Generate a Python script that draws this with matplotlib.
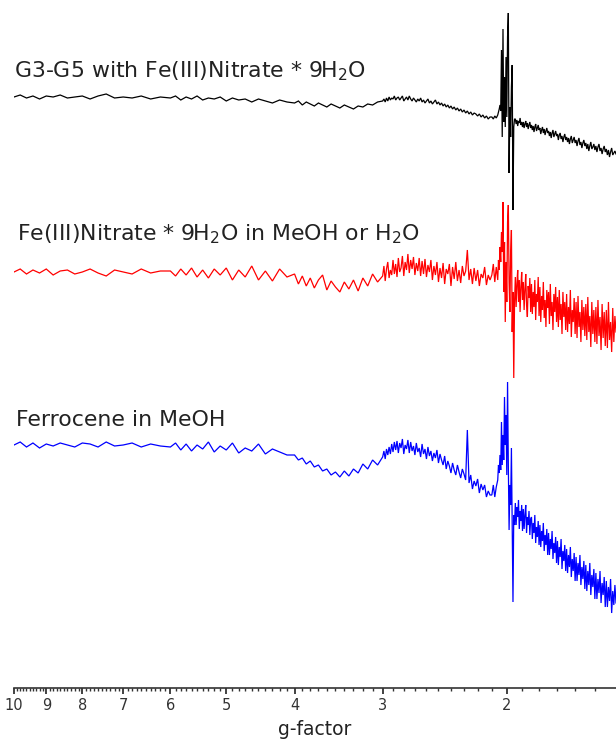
import matplotlib
matplotlib.use("Agg")
import matplotlib.pyplot as plt
from matplotlib.ticker import FixedLocator, FixedFormatter, NullFormatter
import numpy as np

# ---------------- data ----------------
g_factor = [
    10.0, 9.8, 9.6, 9.4, 9.2, 9.0, 8.8, 8.6, 8.4, 8.2, 8.0, 7.8, 7.6, 7.4, 7.2, 7.0, 6.8, 6.6, 6.4, 6.2,
    6.0, 5.9, 5.8, 5.7, 5.6, 5.5, 5.4, 5.3, 5.2, 5.1, 5.0, 4.9, 4.8, 4.7, 4.6, 4.5, 4.4, 4.3, 4.2, 4.1,
    4.0, 3.95, 3.9, 3.85, 3.8, 3.75, 3.7, 3.65, 3.6, 3.55, 3.5, 3.45, 3.4, 3.35, 3.3, 3.25, 3.2, 3.15, 3.1, 3.05,
    3.0, 2.9875, 2.975, 2.9625, 2.95, 2.9375, 2.925, 2.9125, 2.9, 2.8875,
    2.875, 2.8625, 2.85, 2.8375, 2.825, 2.8125, 2.8, 2.7875, 2.775, 2.7625,
    2.75, 2.7375, 2.725, 2.7125, 2.7, 2.6875, 2.675, 2.6625, 2.65, 2.6375,
    2.625, 2.6125, 2.6, 2.5875, 2.575, 2.5625, 2.55, 2.5375, 2.525, 2.5125,
    2.5, 2.4875, 2.475, 2.4625, 2.45, 2.4375, 2.425, 2.4125, 2.4, 2.3875,
    2.375, 2.3625, 2.35, 2.3375, 2.325, 2.3125, 2.3, 2.2875, 2.275, 2.2625,
    2.25, 2.2375, 2.225, 2.2125, 2.2, 2.1875, 2.175, 2.1625, 2.15, 2.1375,
    2.125, 2.1125,
    2.10, 2.09, 2.08, 2.07, 2.06, 2.055, 2.05, 2.045, 2.04, 2.035, 2.03, 2.025, 2.02, 2.015, 2.01, 2.005, 2.0,
    1.995, 1.99, 1.985, 1.98, 1.975, 1.97, 1.965, 1.96, 1.955, 1.95,
    1.945, 1.94, 1.935, 1.93, 1.925, 1.92, 1.915, 1.91, 1.905, 1.90,
    1.895, 1.89, 1.885, 1.88, 1.875, 1.87, 1.865, 1.86, 1.855, 1.85,
    1.845, 1.84, 1.835, 1.83, 1.825, 1.82, 1.815, 1.81, 1.805, 1.80,
    1.795, 1.79, 1.785, 1.78, 1.775, 1.77, 1.765, 1.76, 1.755, 1.75,
    1.745, 1.74, 1.735, 1.73, 1.725, 1.72, 1.715, 1.71, 1.705, 1.70,
    1.695, 1.69, 1.685, 1.68, 1.675, 1.67, 1.665, 1.66, 1.655, 1.65,
    1.645, 1.64, 1.635, 1.63, 1.625, 1.62, 1.615, 1.61, 1.605, 1.60,
    1.595, 1.59, 1.585, 1.58, 1.575, 1.57, 1.565, 1.56, 1.555, 1.55,
    1.545, 1.54, 1.535, 1.53, 1.525, 1.52, 1.515, 1.51, 1.505, 1.50,
    1.495, 1.49, 1.485, 1.48, 1.475, 1.47, 1.465, 1.46, 1.455, 1.45,
    1.445, 1.44, 1.435, 1.43, 1.425, 1.42, 1.415, 1.41, 1.405, 1.40,
]

g3g5_fe_nitrate = [
    0, 2, -1, 1, -2, 1, 0, 2, -1, 0, 1, -2, 1, 3, -1, 0, -1, 1, -2, 0,
    -1, 1, -3, 0, -2, 1, -3, -1, -2, 0, -4, -1, -3, -2, -5, -2, -4, -6, -3, -5,
    -6, -4, -8, -5, -7, -9, -6, -8, -10, -7, -9, -11, -8, -10, -12, -9, -10, -7, -8, -5,
    -4, -2, -5, -1, -4, 0, -3, -1, -2, 1,
    -3, -1, 0, -3, -1, 1, -4, -2, 0, -3,
    1, -2, -4, -1, -3, -5, -2, -4, -1, -5,
    -3, -6, -4, -2, -6, -4, -7, -5, -3, -7,
    -5, -8, -6, -9, -7, -10, -8, -11, -9, -12,
    -10, -13, -11, -14, -12, -15, -13, -16, -14, -17,
    -15, -18, -16, -17, -19, -17, -20, -18, -21, -19,
    -22, -20,
    -20, -22, -19, -21, -18, -15, -12, -8, -14, 47, -40, 68, -25, 20, -30, 40, -20,
    60, 84, -76, -10, -40, 10, 32, -113, -30, -22,
    -22, -27, -23, -29, -24, -26, -21, -28, -25, -30,
    -25, -31, -27, -24, -30, -26, -32, -28, -25, -31,
    -28, -33, -29, -35, -30, -27, -34, -31, -28, -33,
    -31, -37, -33, -30, -36, -32, -38, -34, -31, -36,
    -34, -39, -35, -41, -36, -33, -40, -37, -34, -39,
    -37, -43, -38, -36, -42, -39, -45, -40, -37, -43,
    -40, -45, -41, -47, -42, -39, -46, -43, -40, -46,
    -43, -49, -44, -41, -48, -45, -51, -46, -43, -49,
    -46, -52, -47, -54, -49, -45, -52, -50, -47, -53,
    -49, -55, -50, -47, -54, -51, -57, -52, -49, -55,
    -52, -58, -53, -60, -55, -51, -58, -56, -54, -57,
]

fe_nitrate = [
    0, 3, -2, 2, -1, 3, -3, 1, 2, -2, 0, 3, -1, -4, 2, 0, -2, 3, -1, 1,
    1, -4, 3, -3, 4, -5, 2, -6, 3, -3, 4, -8, 2, -5, 6, -8, 1, -9, 3, -5,
    -2, -12, -4, -14, -6, -16, -8, -3, -18, -9, -15, -20, -10, -17, -8, -19, -6, -14, -2, -10,
    -4, 6, -9, 3, 10, -6, 2, -3, 12, -2,
    8, -5, 14, 0, 4, 16, -4, 10, 2, 18,
    -1, 12, 3, 15, -3, 9, 1, 14, -4, 11,
    -2, 13, -5, 7, 0, 12, -8, 6, -3, 10,
    -10, 4, -6, 9, -12, 3, -2, 8, -14, 5,
    -7, 10, -9, 2, -11, 6, -4, 1, 22, -8,
    3, -12, 4, -9, 2, -14, -2, -6, 5, -13,
    -3, -8,
    -3, 8, -10, 5, -8, 12, 2, 25, 10, 40, 20, 70, -20, 30, -50, 10, -30,
    50, 67, -10, -40, 20, 42, -60, -20, -106, -30,
    -5, -35, -12, 2, -30, -8, -40, -15, 0, -28,
    -10, -38, -18, -2, -33, -45, -14, -26, -6, -40,
    -12, -42, -20, -35, -8, -48, -22, -30, -5, -44,
    -15, -50, -24, -38, -10, -46, -28, -55, -18, -36,
    -20, -52, -12, -44, -30, -58, -22, -40, -15, -50,
    -25, -55, -18, -48, -32, -62, -20, -45, -30, -58,
    -22, -60, -35, -52, -18, -65, -38, -50, -26, -62,
    -30, -66, -24, -55, -40, -70, -28, -58, -35, -64,
    -32, -68, -25, -60, -44, -75, -30, -62, -38, -70,
    -35, -72, -28, -64, -45, -78, -32, -66, -40, -74,
    -38, -76, -30, -68, -50, -80, -36, -70, -44, -60,
]

ferrocene = [
    0, 3, -2, 2, -3, 1, -1, 2, 0, -2, 2, 1, -2, 3, -1, 0, 2, -2, 1, -1,
    -2, 2, -5, 1, -6, 0, -4, 3, -7, -1, -5, 2, -8, -3, -6, 1, -9, -4, -7, -10,
    -10, -15, -13, -19, -16, -22, -20, -26, -24, -30, -27, -32, -26, -31, -24, -28, -19, -24, -15, -20,
    -12, -6, -14, -4, -10, -2, -9, 1, -7, 3,
    -5, 4, -8, 2, -3, 6, -9, 0, -4, 5,
    -8, 3, -6, -1, -10, 2, -7, -3, -12, 1,
    -9, -4, -14, -2, -11, -6, -16, -8, -13, -5,
    -18, -9, -15, -20, -11, -24, -16, -21, -28, -18,
    -25, -30, -20, -27, -33, -24, -29, -35, 15, -38,
    -30, -44, -36, -41, -34, -48, -39, -45, -40, -52,
    -46, -50,
    -50, -40, -52, -42, -35, -20, -28, -10, -25, 23, -20, 10, -15, 48, 0, 30, -30,
    63, -20, -85, -40, -60, -3, -80, -157, -70, -80,
    -58, -80, -62, -72, -55, -84, -66, -76, -60, -86,
    -64, -84, -70, -60, -88, -72, -80, -66, -90, -74,
    -72, -94, -78, -88, -70, -98, -82, -92, -76, -100,
    -80, -102, -86, -96, -78, -106, -90, -100, -84, -110,
    -88, -110, -94, -104, -86, -114, -98, -108, -92, -118,
    -96, -120, -102, -112, -94, -124, -106, -116, -100, -126,
    -104, -128, -110, -122, -102, -132, -114, -126, -108, -136,
    -112, -136, -118, -130, -110, -140, -122, -134, -116, -144,
    -120, -146, -126, -140, -118, -150, -130, -142, -124, -154,
    -128, -154, -134, -148, -126, -158, -138, -150, -132, -162,
    -136, -162, -142, -156, -134, -168, -146, -160, -140, -158,
]

series_labels = [
    r"G3-G5 with Fe(III)Nitrate * 9H$_2$O",
    r"Fe(III)Nitrate * 9H$_2$O in MeOH or H$_2$O",
    "Ferrocene in MeOH",
]
major_ticks = [10, 9, 8, 7, 6, 5, 4, 3, 2]
major_labels = ["10", "9", "8", "7", "6", "5", "4", "3", "2"]

# ---------------- layout / style ----------------
W, H = 616, 744
fig = plt.figure(figsize=(W / 100, H / 100), dpi=100)
ax = fig.add_axes([14 / W, 56 / H, 602 / W, 688 / H])

offsets = [591, 416, 243]
colors = ["#000000", "#ff0000", "#0000ff"]
series = [g3g5_fe_nitrate, fe_nitrate, ferrocene]
for vals, off, col in zip(series, offsets, colors):
    ax.plot(g_factor, np.asarray(vals) + off, color=col, lw=0.9, solid_joinstyle="miter")

ax.set_xscale("log")
ax.set_xlim(10, 1.40)
ax.set_ylim(0, 688)

for s in ["top", "right", "left"]:
    ax.spines[s].set_visible(False)
ax.spines["bottom"].set_color("#333333")
ax.spines["bottom"].set_linewidth(1.2)
ax.set_yticks([])

ax.xaxis.set_major_locator(FixedLocator(major_ticks))
ax.xaxis.set_major_formatter(FixedFormatter(major_labels))
minor = [round(v, 1) for v in np.arange(1.5, 10.0, 0.1) if abs(v - round(v)) > 1e-6]
ax.xaxis.set_minor_locator(FixedLocator(minor))
ax.xaxis.set_minor_formatter(NullFormatter())
ax.tick_params(axis="x", which="major", direction="out", length=4.5, width=1.3,
               colors="#333333", labelsize=10.5, pad=3)
ax.tick_params(axis="x", which="minor", direction="out", length=2.2, width=1.0, colors="#333333")
ax.set_xlabel("g-factor", fontsize=13.5, color="#222222", labelpad=5)

label_pos = [(14, 77), (17, 240), (16, 426)]
for (px, py), txt in zip(label_pos, series_labels):
    fig.text(px / W, 1 - py / H, txt, fontsize=15.8, color="#222222",
             ha="left", va="baseline")

fig.savefig("out.png", dpi=100)
